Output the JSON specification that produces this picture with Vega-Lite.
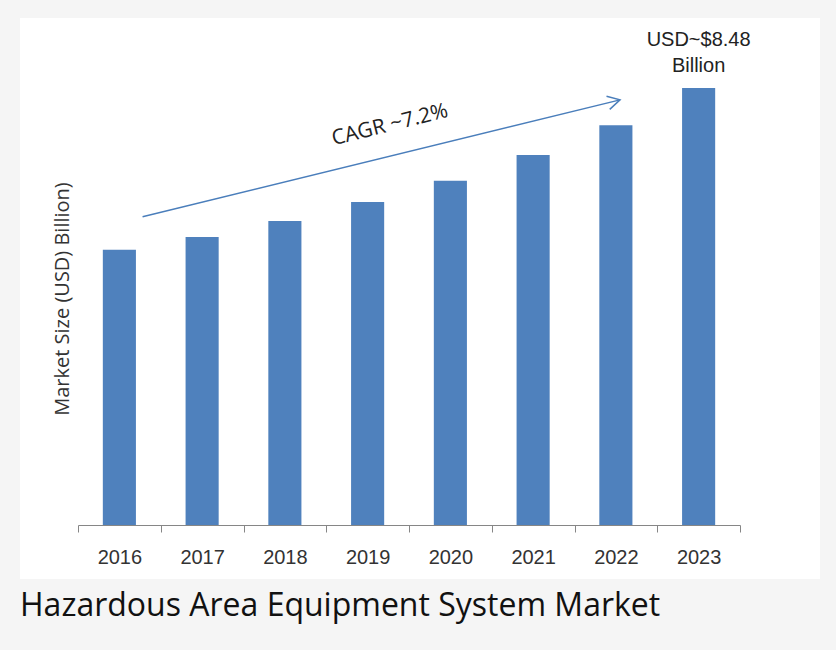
{
  "$schema": "https://vega.github.io/schema/vega-lite/v6.json",
  "width": 836,
  "height": 650,
  "autosize": {"type": "fit", "contains": "padding"},
  "padding": {"left": 20, "top": 18, "right": 16, "bottom": 28},
  "background": "#f5f5f5",
  "config": {"view": {"fill": "white", "stroke": null}},
  "title": {
    "text": "Hazardous Area Equipment System Market",
    "orient": "bottom",
    "anchor": "start",
    "offset": 12,
    "font": "Open Sans",
    "fontSize": 32,
    "fontWeight": "normal",
    "color": "#111111"
  },
  "datasets": {
    "bars": [
      {"year": "2016", "value": 5.34},
      {"year": "2017", "value": 5.59},
      {"year": "2018", "value": 5.90},
      {"year": "2019", "value": 6.27},
      {"year": "2020", "value": 6.68},
      {"year": "2021", "value": 7.18},
      {"year": "2022", "value": 7.76},
      {"year": "2023", "value": 8.48}
    ],
    "arrow": [
      {"x": 0.78, "y": 5.98, "x2": 6.55, "y2": 8.25}
    ],
    "labels": [
      {"x": 3.77, "y": 7.76, "label": "CAGR ~7.2%", "kind": "cagr"},
      {"x": 7.5, "y": 9.41, "label": "USD~$8.48", "kind": "top"},
      {"x": 7.5, "y": 8.91, "label": "Billion", "kind": "top"}
    ]
  },
  "layer": [
    {
      "data": {"name": "bars"},
      "mark": {"type": "bar", "color": "#4f81bd", "width": {"band": 0.4}},
      "encoding": {
        "x": {
          "field": "year",
          "type": "ordinal",
          "scale": {"range": [58, 720], "paddingInner": 0, "paddingOuter": 0},
          "axis": {
            "title": null,
            "offset": -54,
            "tickBand": "extent",
            "tickSize": 7,
            "tickColor": "#868686",
            "domainColor": "#868686",
            "labelAngle": 0,
            "labelFont": "Liberation Sans",
            "labelFontSize": 20,
            "labelColor": "#333333",
            "labelPadding": 15
          }
        },
        "y": {
          "field": "value",
          "type": "quantitative",
          "scale": {"domain": [-1.048, 9.839], "nice": false, "zero": false},
          "axis": {
            "title": "Market Size (USD) Billion)",
            "offset": -58,
            "domain": false,
            "ticks": false,
            "labels": false,
            "grid": false,
            "titleFont": "Open Sans",
            "titleFontSize": 20,
            "titleFontWeight": "normal",
            "titleColor": "#333333",
            "titlePadding": 6
          }
        },
        "y2": {"datum": 0}
      }
    },
    {
      "data": {"name": "arrow"},
      "mark": {"type": "rule", "color": "#4a7ebb", "strokeWidth": 1.5},
      "encoding": {
        "x": {"field": "x", "type": "quantitative", "scale": {"domain": [0, 8], "range": [58, 720]}, "axis": null},
        "x2": {"field": "x2"},
        "y": {"field": "y", "type": "quantitative"},
        "y2": {"field": "y2"}
      }
    },
    {
      "data": {"name": "arrow"},
      "mark": {"type": "point", "shape": "M -1 -0.55 L 0 0 L -1 0.55", "filled": false, "color": "#4a7ebb", "strokeWidth": 1.5, "size": 600, "angle": -13.8, "opacity": 1},
      "encoding": {
        "x": {"field": "x2", "type": "quantitative", "scale": {"domain": [0, 8], "range": [58, 720]}, "axis": null},
        "y": {"field": "y2", "type": "quantitative"}
      }
    },
    {
      "data": {"name": "labels"},
      "transform": [{"filter": "datum.kind == 'cagr'"}],
      "mark": {"type": "text", "angle": -14, "font": "Open Sans", "fontSize": 21, "color": "#222222"},
      "encoding": {
        "x": {"field": "x", "type": "quantitative", "scale": {"domain": [0, 8], "range": [58, 720]}, "axis": null},
        "y": {"field": "y", "type": "quantitative"},
        "text": {"field": "label"}
      }
    },
    {
      "data": {"name": "labels"},
      "transform": [{"filter": "datum.kind == 'top'"}],
      "mark": {"type": "text", "font": "Liberation Sans", "fontSize": 20, "color": "#222222"},
      "encoding": {
        "x": {"field": "x", "type": "quantitative", "scale": {"domain": [0, 8], "range": [58, 720]}, "axis": null},
        "y": {"field": "y", "type": "quantitative"},
        "text": {"field": "label"}
      }
    }
  ],
  "resolve": {"scale": {"x": "independent"}}
}
